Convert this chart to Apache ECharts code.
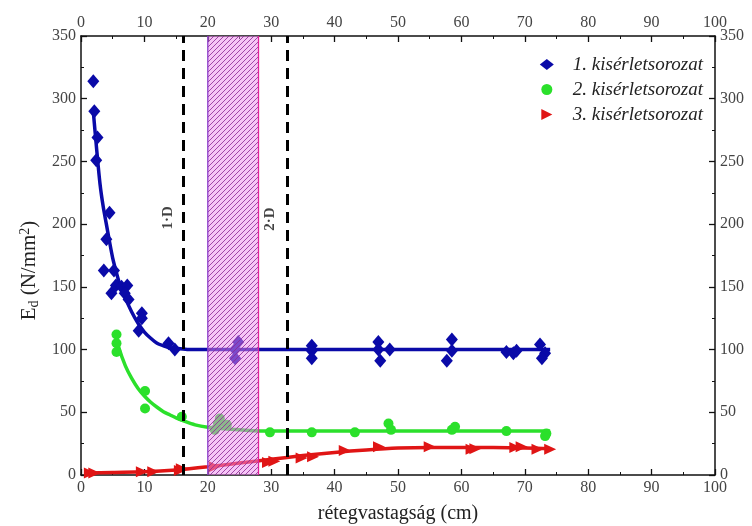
<!DOCTYPE html>
<html><head><meta charset="utf-8">
<script src="https://cdn.jsdelivr.net/npm/echarts@6/dist/echarts.min.js"></script>
<style>html,body{margin:0;padding:0;background:#fff}#c{width:752px;height:526px}</style>
</head><body><div id="c"></div>
<script>
// ---- data ----
const s1Name = '1. kisérletsorozat';
const s2Name = '2. kisérletsorozat';
const s3Name = '3. kisérletsorozat';

const blueX = [1.94,2.1,2.6,2.4,4.5,4.0,3.6,5.2,4.8,5.5,6.4,7.3,6.9,7.5,9.6,9.6,9.1,13.8,14.8,24.8,24.3,24.3,36.4,36.4,36.4,46.9,46.9,47.2,48.7,58.5,58.5,57.7,67.1,68.2,68.7,72.4,73.2,72.7];
const blueY = [314,290,269,251,209,188,163,163,145,151,150,151,145,140,129,125,115,105,100,106,100,93,103,99,93,106,100,91,100,108,99,91,98,97,99,104,97,93];

const greenX = [5.6,5.6,5.6,10.1,10.1,15.9,21.9,21.1,23.0,21.6,29.8,36.4,43.2,48.5,48.9,58.5,59.0,67.1,73.4,73.2];
const greenY = [112,105,98,67,53,46.5,45,36,40,41,34,34,34,41,36,36,38.5,35,33,31];

const redX = [1.4,2.1,9.6,11.4,15.6,15.9,21.1,29.5,30.5,34.8,36.6,41.6,47.0,55.0,61.6,62.2,68.5,69.5,72.0,74.0];
const redY = [1.5,1.5,2.5,2.5,3.5,5,6.5,10,11,13.5,14.5,19.5,22.5,22.5,20.5,21,22,22.5,20.5,20.5];

const blueFitX = [1.9,2.5,3.0,3.5,4.0,4.5,5.0,5.5,6.0,7.0,8.0,9.0,10.0,11.0,12.0,13.0,14.0,15.0,17.0,20.0,74.0];
const blueFitY = [292,258,232,214,200,186,173,163,154,141,130,121,114,109,105,103,101.5,101,100,100,100];

const greenFitX = [5.6,6,7,8,9,10,11,12,13,14,15,16,18,20,22,25,30,74];
const greenFitY = [111,101,87,77,69,63,58,54,50.5,48,45.5,43.5,40,38,37,36,35,35];

const redFitX = [0.5,5,10,15,20,25,30,35,40,45,50,55,60,65,70,74];
const redFitY = [1.5,2,2.5,4,6.5,9.5,12.5,15.5,18,20,21.5,22,22,22,21.5,21];

const dLines = [16.2, 32.6];
const dLabels = ['1·D', '2·D'];
const dLabelX = [13.8, 29.8];
const dLabelY = [205, 204];
const hatchRange = [20, 28];

// ---- build ----
function zip(xs, ys){ return xs.map((x,i)=>[x, ys[i]]); }

const pat = document.createElement('canvas');
pat.width = 5; pat.height = 5;
const pc = pat.getContext('2d');
pc.fillStyle = 'rgba(238,140,238,0.5)';
pc.fillRect(0,0,5,5);
pc.strokeStyle = 'rgba(140,40,150,0.9)';
pc.lineWidth = 0.9;
pc.beginPath();
pc.moveTo(0,5); pc.lineTo(5,0);
pc.moveTo(-1,1); pc.lineTo(1,-1);
pc.moveTo(4,6); pc.lineTo(6,4);
pc.stroke();

const SERIF = '"Liberation Serif","DejaVu Serif",serif';
const triPath = 'path://M0,0 L10,5 L0,10 Z';
const blue = '#0a0aa8', green = '#2be02b', red = '#e01515';

const axisCommon = {
  min: 0, max: 100, interval: 10,
  axisLine: {onZero:false, lineStyle:{color:'#111', width:1.5}},
  axisTick: {inside:true, length:6, lineStyle:{color:'#111', width:1.3}},
  minorTick: {show:true, splitNumber:2, length:3, lineStyle:{color:'#111', width:1}},
  splitLine: {show:false},
  axisLabel: {fontFamily:SERIF, fontSize:16, color:'#444', margin:5}
};
const yCommon = {
  type:'value', min:0, max:350, interval:50,
  axisLine: {onZero:false, show:true, lineStyle:{color:'#111', width:1.5}},
  axisTick: {show:true, inside:true, length:6, lineStyle:{color:'#111', width:1.3}},
  minorTick: {show:true, splitNumber:2, length:3, lineStyle:{color:'#111', width:1}},
  splitLine: {show:false},
  axisLabel: {fontFamily:SERIF, fontSize:16, color:'#444', margin:5}
};

const chart = echarts.init(document.getElementById('c'), null, {renderer:'canvas'});
chart.setOption({
  animation: false,
  backgroundColor: '#fff',
  grid: {left:81, right:37, top:36, bottom:51, containLabel:false, outerBoundsMode:'none'},
  legend: {
    orient:'vertical', right:44, top:50, itemGap:6, itemWidth:14, itemHeight:11,
    data:[{name:s1Name, icon:'diamond'},{name:s2Name, icon:'circle'},{name:s3Name, icon:triPath}],
    textStyle:{fontFamily:SERIF, fontSize:19, fontStyle:'italic', color:'#222', padding:[0,0,0,14]}
  },
  xAxis: [
    Object.assign({type:'value', position:'bottom', name:'rétegvastagság (cm)', nameLocation:'middle', nameGap:29,
      nameTextStyle:{fontFamily:SERIF, fontSize:20, color:'#222'}}, axisCommon),
    Object.assign({type:'value', position:'top'}, axisCommon)
  ],
  yAxis: [
    Object.assign({position:'left', name:'E{sub|d} (N/mm{sup|2})', nameLocation:'middle', nameGap:39, nameRotate:90,
      nameTextStyle:{fontFamily:SERIF, fontSize:21, color:'#222', padding:[0,30,0,0],
        rich:{sub:{fontFamily:SERIF, fontSize:14, verticalAlign:'bottom', padding:[9,0,0,0], color:'#222'},
              sup:{fontFamily:SERIF, fontSize:14, verticalAlign:'top', padding:[0,0,9,0], color:'#222'}}}}, yCommon),
    Object.assign({position:'right'}, yCommon)
  ],
  series: [
    {type:'line', name:'fit1', data:zip(blueFitX, blueFitY), smooth:0.3, showSymbol:false, symbol:'none',
      lineStyle:{color:blue, width:3.5}, z:2, silent:true},
    {type:'line', name:'fit2', data:zip(greenFitX, greenFitY), smooth:0.3, showSymbol:false, symbol:'none',
      lineStyle:{color:green, width:3.5}, z:2, silent:true},
    {type:'line', name:'fit3', data:zip(redFitX, redFitY), smooth:0.3, showSymbol:false, symbol:'none',
      lineStyle:{color:red, width:3.5}, z:2, silent:true},
    {type:'scatter', name:s1Name, data:zip(blueX, blueY), symbol:'diamond', symbolSize:[12,14],
      itemStyle:{color:blue, opacity:1}, z:3},
    {type:'scatter', name:s2Name, data:zip(greenX, greenY), symbol:'circle', symbolSize:10,
      itemStyle:{color:green, opacity:1}, z:3},
    {type:'scatter', name:s3Name, data:zip(redX, redY), symbol:triPath, symbolSize:[12,11],
      itemStyle:{color:red, opacity:1}, z:3},
    {type:'scatter', name:'labels', data:zip(dLabelX, dLabelY), symbolSize:0, silent:true, z:5,
      label:{show:true, position:'inside', rotate:90, formatter:(p)=>dLabels[p.dataIndex],
        fontFamily:SERIF, fontSize:15, fontWeight:'bold', color:'#111'}},
    {type:'custom', name:'hatch', data:[[hatchRange[0], hatchRange[1]]], z:10, silent:true,
      renderItem:function(params, api){
        const p0 = api.coord([api.value(0), 350]);
        const p1 = api.coord([api.value(1), 0]);
        const w = p1[0]-p0[0], h = p1[1]-p0[1];
        return {type:'group', children:[
          {type:'rect', shape:{x:p0[0], y:p0[1], width:w, height:h}, style:{fill:{image:pat, repeat:'repeat'}}},
          {type:'line', shape:{x1:p0[0], y1:p0[1], x2:p0[0], y2:p1[1]}, style:{stroke:'#8a3cc8', lineWidth:1.3}},
          {type:'line', shape:{x1:p1[0], y1:p0[1], x2:p1[0], y2:p1[1]}, style:{stroke:'#e0209a', lineWidth:1.3}}
        ]};
      }},
    {type:'line', name:'dlines', data:[], z:11, silent:true,
      markLine:{silent:true, symbol:['none','none'], label:{show:false},
        lineStyle:{color:'#000', width:3, type:[11,7]},
        data: dLines.map(v=>({xAxis:v}))}}
  ]
});
</script></body></html>
